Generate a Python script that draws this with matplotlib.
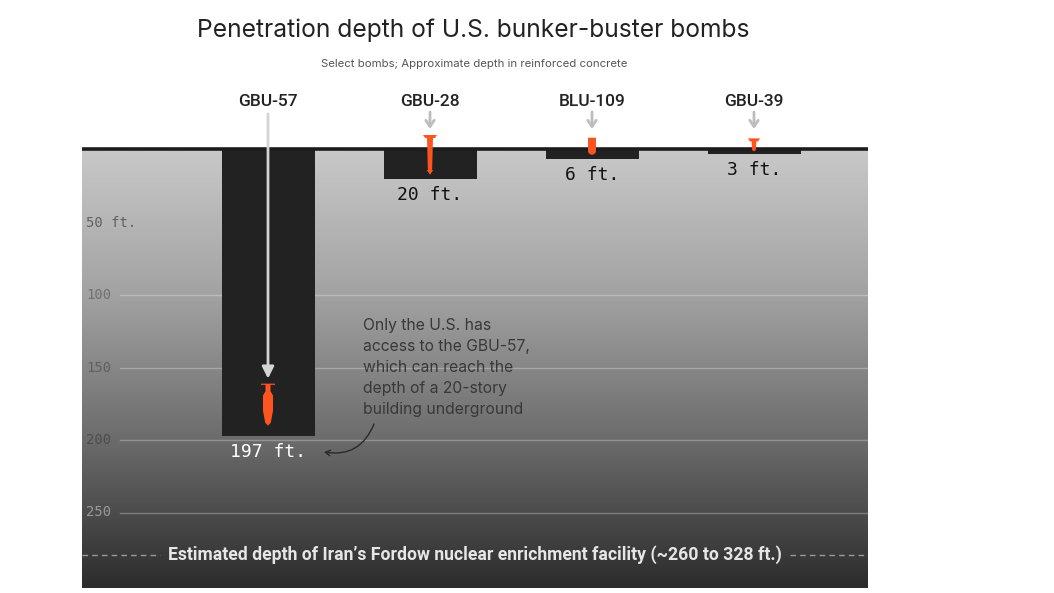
import numpy as np
import matplotlib
matplotlib.use("Agg")
import matplotlib.pyplot as plt
from matplotlib.patches import Polygon
from matplotlib.colors import LinearSegmentedColormap

# ---------------- data ----------------
bombs = ["GBU-57", "GBU-28", "BLU-109", "GBU-39"]
depth_ft = [197, 20, 6, 3]
depth_labels = ["197 ft.", "20 ft.", "6 ft.", "3 ft."]
tick_values = [50, 100, 150, 200, 250]
tick_labels = ["50 ft.", "100", "150", "200", "250"]
fordow_line_ft = 279
title = "Penetration depth of U.S. bunker-buster bombs"
subtitle = "Select bombs; Approximate depth in reinforced concrete"
note = ("Only the U.S. has\naccess to the GBU-57,\nwhich can reach the\n"
        "depth of a 20-story\nbuilding underground")
fordow_text = "Estimated depth of Iran\u2019s Fordow nuclear enrichment facility (~260 to 328 ft.)"

# ---------------- style ----------------
W, H = 1054, 593
PX_X = 162.0      # pixels per category unit
PX_Y = 1.45       # pixels per foot
BAR_W = 93 / PX_X
BAR_COLOR = "#222222"
ORANGE = "#ff5420"
# bomb glyph styling (pixels)
bomb_len_px = [42, 40, 17, 13]
bomb_tip_off_px = [10, 4, 4, 3]
bomb_body_px = [10, 6, 8, 5]
bomb_cap_px = [14, 14, 9, 12]

fig = plt.figure(figsize=(W / 100, H / 100), dpi=100)
fig.patch.set_facecolor("white")
ax_left, ax_right = 82 / W, 868 / W
ax_bottom, ax_top = 1 - 588 / H, 1 - 146 / H
ax = fig.add_axes([ax_left, ax_bottom, ax_right - ax_left, ax_top - ax_bottom])
x_lo = (82 - 268) / PX_X
x_hi = (868 - 268) / PX_X
y_top = (146 - 150) / PX_Y
y_bot = (588 - 150) / PX_Y
ax.set_xlim(x_lo, x_hi)
ax.set_ylim(y_bot, y_top)
ax.axis("off")

# background gradient (ground)
cmap = LinearSegmentedColormap.from_list(
    "ground", [(0.0, "#c8c8c8"), (0.33, "#a2a2a2"), (0.66, "#6c6c6c"), (1.0, "#2c2c2c")])
grad = np.linspace(0, 1, 400).reshape(-1, 1)
ax.imshow(grad, cmap=cmap, aspect="auto", extent=[x_lo, x_hi, y_bot, 0],
          zorder=0, interpolation="bilinear")

# gridlines + tick labels
tick_colors = ["#626262", "#707070", "#606060", "#4e4e4e", "#999999"]
for v, lab, c in zip(tick_values, tick_labels, tick_colors):
    if v != 50:
        ax.plot([x_lo + 38 / PX_X, x_hi], [v, v], color="white", alpha=0.28, lw=1, zorder=1)
    ax.text(x_lo + 4 / PX_X, v, lab, fontsize=10, family="DejaVu Sans Mono",
            color=c, va="center", ha="left", zorder=2)

# surface line
ax.plot([x_lo, x_hi], [-1.0, -1.0], color="#1c1c1c", lw=2.6, zorder=5, solid_capstyle="butt")

x = np.arange(len(bombs))
ax.bar(x, depth_ft, width=BAR_W, bottom=0, color=BAR_COLOR, zorder=4)


def bomb(cx, top, tip, body_px, cap_px, kind):
    dx = 1 / PX_X
    dy = 1 / PX_Y
    L = tip - top
    bw = body_px * dx / 2
    cw = cap_px * dx / 2
    ch = 3 * dy
    if kind == 0:
        nw = bw * 0.5
        pts = [(cx - cw, top), (cx + cw, top), (cx + cw, top + 1.2 * dy), (cx + nw, top + 1.2 * dy),
               (cx + nw, top + 0.18 * L), (cx + bw, top + 0.28 * L), (cx + bw, top + 0.65 * L),
               (cx + bw * 0.55, top + 0.93 * L), (cx, tip),
               (cx - bw * 0.55, top + 0.93 * L), (cx - bw, top + 0.65 * L), (cx - bw, top + 0.28 * L),
               (cx - nw, top + 0.18 * L), (cx - nw, top + 1.2 * dy), (cx - cw, top + 1.2 * dy)]
    elif kind == 2:
        ang = np.linspace(0, np.pi, 14)
        r = body_px / 2 * dy
        pts = [(cx - bw, top), (cx + bw, top)]
        pts += [(cx + bw * np.cos(a), (tip - r) + r * np.sin(a)) for a in ang]
    else:
        bt = bw * 0.7
        pts = [(cx - cw, top), (cx + cw, top), (cx + cw * 0.7, top + ch), (cx + bw, top + ch),
               (cx + bt, tip - 0.12 * L), (cx + bt * 1.6, tip - 0.12 * L), (cx + bt * 0.5, tip - 0.05 * L),
               (cx, tip),
               (cx - bt * 0.5, tip - 0.05 * L), (cx - bt * 1.6, tip - 0.12 * L), (cx - bt, tip - 0.12 * L),
               (cx - bw, top + ch), (cx - cw * 0.7, top + ch)]
    ax.add_patch(Polygon(pts, closed=True, facecolor=ORANGE, edgecolor="none", zorder=7,
                         clip_on=False))


for i, d in enumerate(depth_ft):
    tip = d - bomb_tip_off_px[i] / PX_Y
    top = tip - bomb_len_px[i] / PX_Y
    kind = 0 if i == 0 else (2 if i == 2 else 1)
    bomb(x[i], top, tip, bomb_body_px[i], bomb_cap_px[i], kind)
    # depth label under the bar
    ax.annotate(depth_labels[i], (x[i], d), xytext=(0, -5), textcoords="offset points",
                ha="center", va="top", fontsize=13, family="DejaVu Sans Mono",
                color="white" if i == 0 else "#111111", zorder=8)
    # bomb name
    ax.text(x[i], (101 - 150) / PX_Y, bombs[i], ha="center", va="center", fontsize=12.5,
            family="Roboto", fontweight="medium", color="#222222", clip_on=False, zorder=8)
    # arrows
    if i == 0:
        ax.annotate("", xy=(x[i], top - 5 / PX_Y), xytext=(x[i], (114 - 150) / PX_Y),
                    arrowprops=dict(arrowstyle="-|>,head_width=0.35,head_length=0.7",
                                    color="#d4d4d4", lw=2, shrinkA=0, shrinkB=0),
                    annotation_clip=False, zorder=6)
    else:
        ax.annotate("", xy=(x[i], (129 - 150) / PX_Y), xytext=(x[i], (112 - 150) / PX_Y),
                    arrowprops=dict(arrowstyle="->,head_width=0.3,head_length=0.45",
                                    color="#bdbdbd", lw=2, shrinkA=0, shrinkB=0),
                    annotation_clip=False, zorder=6)

# note text
ax.text((363 - 268) / PX_X, (318 - 150) / PX_Y, note, ha="left", va="top", fontsize=11.3,
        family="Inter", color="#383838", linespacing=1.5, zorder=8)
# curved arrow from note to the label
ax.annotate("", xy=((324 - 268) / PX_X, (452 - 150) / PX_Y),
            xytext=((374 - 268) / PX_X, (424 - 150) / PX_Y),
            arrowprops=dict(arrowstyle="->,head_width=0.2,head_length=0.35", color="#2a2a2a",
                            lw=1, connectionstyle="arc3,rad=-0.4", shrinkA=0, shrinkB=0), zorder=8)

# Fordow line and text
ax.plot([x_lo, x_lo + (160 - 82) / PX_X], [fordow_line_ft] * 2, color="#9a9a9a", lw=1,
        ls=(0, (4, 3)), zorder=2)
ax.plot([x_lo + (790 - 82) / PX_X, x_hi], [fordow_line_ft] * 2, color="#9a9a9a", lw=1,
        ls=(0, (4, 3)), zorder=2)
ax.text((x_lo + x_hi) / 2, fordow_line_ft, fordow_text, ha="center", va="center",
        fontsize=12.7, family="Roboto", fontweight="bold", color="#e6e6e6", zorder=8)

# titles
fig.text(473 / W, 1 - 30 / H, title, ha="center", va="center", fontsize=17.7,
         family="Inter", color="#222222")
fig.text(474.5 / W, 1 - 64 / H, subtitle, ha="center", va="center", fontsize=8.2,
         family="Inter", color="#555555")

fig.savefig("out.png", dpi=100, facecolor="white")
